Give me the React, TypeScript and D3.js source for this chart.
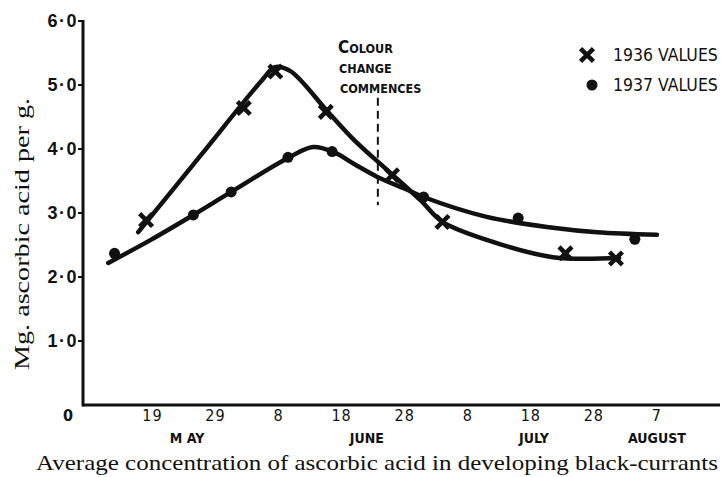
import React from 'react';
import * as d3 from 'd3';

// values (year only used for the calendar)
const yr = '1936-';
const tickDates = ['05-19', '05-29', '06-08', '06-18', '06-28', '07-08', '07-18', '07-28', '08-07'];
const tickLabels = ['19', '29', '8', '18', '28', '8', '18', '28', '7'];
const monthNames = ['M AY', 'JUNE', 'JULY', 'AUGUST'];
const monthAt = ['05-24T12', '06-22', '07-18T12', '08-07'];
const yTicks = [1, 2, 3, 4, 5, 6];

const dates1936 = ['05-18', '06-02T12', '06-07T12', '06-15T12', '06-26', '07-04', '07-23T12', '07-31T12'];
const values1936 = [2.89, 4.64, 5.21, 4.58, 3.59, 2.86, 2.37, 2.29];
const dates1937 = ['05-13', '05-25T12', '05-31T12', '06-09T12', '06-16T12', '07-01', '07-16', '08-03T12'];
const values1937 = [2.37, 2.97, 3.33, 3.87, 3.96, 3.25, 2.92, 2.59];

// the hand drawn smooth curves, traced
const curveDates1936 = ['05-16T18', '05-26T12', '06-05T10', '06-07T10', '06-09T20', '06-15T18', '06-20', '06-25T06', '06-30T12', '07-04', '07-11', '07-21T12', '08-01'];
const curveValues1936 = [2.7, 3.88, 5.08, 5.28, 5.22, 4.59, 4.14, 3.67, 3.2, 2.86, 2.58, 2.31, 2.3];
const curveDates1937 = ['05-12', '05-18T18', '05-25T12', '05-31T12', '06-09T12', '06-13T12', '06-16T18', '06-20T06', '06-23T18', '06-28T12', '07-01', '07-11', '07-21T12', '07-28T12', '08-07'];
const curveValues1937 = [2.22, 2.58, 2.97, 3.33, 3.86, 4.03, 3.95, 3.75, 3.56, 3.36, 3.25, 2.94, 2.77, 2.7, 2.66];

const colourChange = '06-23T18';
const colourChangeRange = [3.12, 4.8];

const parse = (s: string) => d3.isoParse(yr + s + (s.includes('T') ? ':00' : '')) as Date;

const App = () => {
  const x = d3.scaleTime().domain([parse('05-08'), parse('08-17')]).range([83, 720]);
  const y = d3.scaleLinear().domain([0, 6]).range([405, 21]);

  const line = d3
    .line<[Date, number]>()
    .x(d => x(d[0]))
    .y(d => y(d[1]))
    .curve(d3.curveCatmullRom.alpha(0.5));

  const c36 = curveDates1936.map((d, i) => [parse(d), curveValues1936[i]] as [Date, number]);
  const c37 = curveDates1937.map((d, i) => [parse(d), curveValues1937[i]] as [Date, number]);
  const cross = d3.symbol(d3.symbolX, 110)();

  const narrow = "'Liberation Sans Narrow', 'DejaVu Sans Condensed', sans-serif";
  const x0 = x.range()[0];
  const y0 = y(0);

  return (
    <svg width={724} height={477} style={{ position: 'absolute', left: 0, top: 0, background: '#fff' }}>
      {/* axes */}
      <line x1={x0} x2={x0} y1={y(6) - 1} y2={y0 + 1.5} stroke="#111" strokeWidth={3} />
      <line x1={x0} x2={x.range()[1]} y1={y0} y2={y0} stroke="#111" strokeWidth={3} />
      {yTicks.map(t => (
        <g key={t}>
          <line x1={x0 - 5} x2={x0} y1={y(t)} y2={y(t)} stroke="#111" strokeWidth={2} />
          <text x={x0 - 5} y={y(t) + 6} textAnchor="end" fontFamily="'Liberation Sans', sans-serif"
            fontWeight="bold" fontSize={18} letterSpacing={1.5} fill="#111">{t}·0</text>
        </g>
      ))}
      <text x={68} y={421} textAnchor="middle" fontFamily={narrow} fontWeight="bold" fontSize={16} fill="#111">0</text>
      {tickDates.map((d, i) => (
        <text key={d} x={x(parse(d))} y={421} textAnchor="middle" fontFamily={narrow} fontSize={16}
          letterSpacing={1} fill="#111">
          {tickLabels[i]}
        </text>
      ))}
      {monthNames.map((m, i) => (
        <text key={m} x={x(parse(monthAt[i]))} y={443} textAnchor="middle" fontFamily={narrow} fontWeight="bold"
          fontSize={14} fill="#111">{m}</text>
      ))}

      {/* y title */}
      <text transform={`translate(29,234) rotate(-90)`} textAnchor="middle" textLength={272}
        lengthAdjust="spacingAndGlyphs"
        fontFamily="'Liberation Serif', serif" fontSize={22} fill="#111">Mg. ascorbic acid per g.</text>

      {/* caption */}
      <text x={377} y={470} textAnchor="middle" textLength={682} lengthAdjust="spacingAndGlyphs"
        fontFamily="'Liberation Serif', serif" fontSize={21} fill="#111">
        Average concentration of ascorbic acid in developing black-currants
      </text>

      {/* colour change marker */}
      <line x1={x(parse(colourChange))} x2={x(parse(colourChange))} y1={y(colourChangeRange[1])}
        y2={y(colourChangeRange[0])} stroke="#111" strokeWidth={2} strokeDasharray="8,5" />
      <g fontFamily={narrow} fontWeight="bold" fill="#111">
        <text x={338} y={53} fontSize={12.5}><tspan fontSize={17}>C</tspan>OLOUR</text>
        <text x={339} y={73} fontSize={12.5}>CHANGE</text>
        <text x={340} y={93} fontSize={12.5}>COMMENCES</text>
      </g>

      {/* curves */}
      <path d={line(c36) ?? ''} fill="none" stroke="#111" strokeWidth={4.5} strokeLinecap="round" />
      <path d={line(c37) ?? ''} fill="none" stroke="#111" strokeWidth={4.5} strokeLinecap="round" />

      {dates1936.map((d, i) => (
        <path key={d} d={cross ?? ''} transform={`translate(${x(parse(d))},${y(values1936[i])})`}
          stroke="#111" strokeWidth={4.5} fill="none" />
      ))}
      {dates1937.map((d, i) => (
        <circle key={d} cx={x(parse(d))} cy={y(values1937[i])} r={5.5} fill="#111" />
      ))}

      {/* legend */}
      <path d={cross ?? ''} transform="translate(587,55)" stroke="#111" strokeWidth={4.5} fill="none" />
      <text x={613} y={61} fontFamily={narrow} fontSize={17.5} fill="#111">1936  VALUES</text>
      <circle cx={592} cy={85} r={5.5} fill="#111" />
      <text x={613} y={91} fontFamily={narrow} fontSize={17.5} fill="#111">1937  VALUES</text>
    </svg>
  );
};

export default App;
